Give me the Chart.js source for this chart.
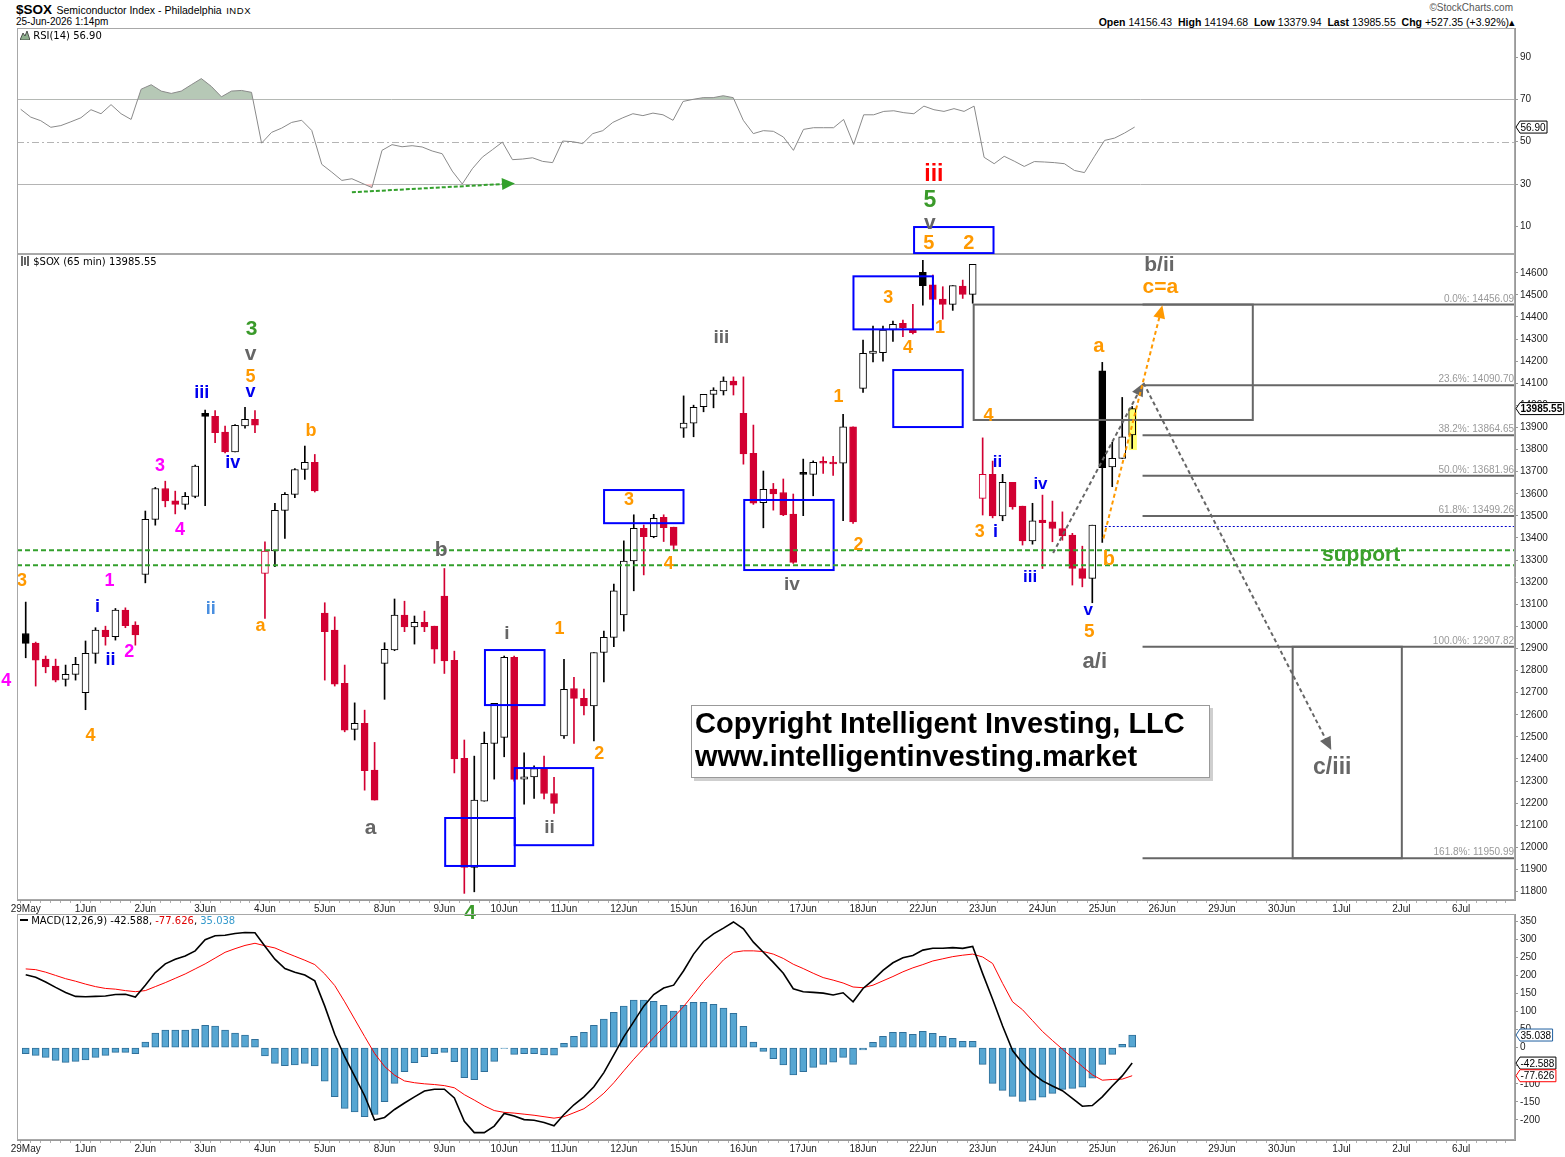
<!DOCTYPE html>
<html>
<head>
<meta charset="utf-8">
<title>$SOX Semiconductor Index</title>
<script src="https://cdn.jsdelivr.net/npm/chart.js@4.4.1/dist/chart.umd.min.js"></script>
<style>
  html,body{margin:0;padding:0;background:#fff;}
  body{width:1565px;height:1157px;position:relative;overflow:hidden;font-family:"Liberation Sans",Arial,sans-serif;}
  canvas{position:absolute;left:0;}
  .txt{position:absolute;white-space:nowrap;line-height:1;color:#000;}
  .leg{font-family:"DejaVu Sans",sans-serif;font-size:10px;}
  #copy{position:absolute;left:691px;top:705px;width:517px;height:71px;border:1px solid #999;background:#fff;box-shadow:3px 3px 0 #cfcfcf;}
  #copy div{position:absolute;left:3px;font-weight:bold;font-size:29px;color:#000;white-space:nowrap;line-height:1;}
</style>
</head>
<body>
<canvas id="rsiC" width="1565" height="226" style="top:28px"></canvas>
<canvas id="priceC" width="1565" height="775" style="top:150px"></canvas>
<canvas id="macdC" width="1565" height="243" style="top:914px"></canvas>

<div class="txt" style="left:16px;top:1px;"><b style="font-size:13.5px">$SOX</b> <span style="font-size:10.5px">Semiconductor Index - Philadelphia</span> <span style="font-size:9.5px;letter-spacing:0.6px">INDX</span></div>
<div class="txt" style="left:16px;top:17px;font-size:10px;">25-Jun-2026 1:14pm</div>
<div class="txt" style="right:52px;top:3px;font-size:10px;color:#555;">&#169;StockCharts.com</div>
<div class="txt" style="right:50px;top:17px;font-size:10.5px;"><b>Open</b> 14156.43 &nbsp;<b>High</b> 14194.68 &nbsp;<b>Low</b> 13379.94 &nbsp;<b>Last</b> 13985.55 &nbsp;<b>Chg</b> +527.35 (+3.92%)&#9652;</div>

<div class="txt leg" style="left:20px;top:30px;"><svg width="10" height="10" style="vertical-align:-1px"><path d="M0 10 L3 3 L5 6 L7 1 L10 10 Z" fill="#8fb08f" stroke="#333" stroke-width="0.8"/></svg> RSI(14) 56.90</div>
<div class="txt leg" style="left:20px;top:256px;"><svg width="10" height="10" style="vertical-align:-1px"><path d="M2 0 V10 M5 1 V9 M8 0 V10" stroke="#000" stroke-width="1.2"/></svg> $SOX (65 min) 13985.55</div>
<div class="txt leg" style="left:20px;top:916px;"><span style="display:inline-block;width:8px;height:2px;background:#000;vertical-align:3px"></span> MACD(12,26,9) -42.588, <span style="color:#e00000">-77.626</span>, <span style="color:#3399cc">35.038</span></div>

<div id="copy"><div style="top:3px;">Copyright Intelligent Investing, LLC</div><div style="top:36px;">www.intelligentinvesting.market</div></div>

<script>
// ---------------- DATA ----------------
const dayLabels = ['29May','1Jun','2Jun','3Jun','4Jun','5Jun','8Jun','9Jun','10Jun','11Jun','12Jun','15Jun','16Jun','17Jun','18Jun','22Jun','23Jun','24Jun','25Jun','26Jun','29Jun','30Jun','1Jul','2Jul','6Jul'];

const openP = [12968,12924,12852,12820,12760,12783, 12700,12878,12983,12953,13074,13006, 13235,13484,13624,13568,13552,13588,
 13964,13950,13879,13790,13907,13937, 13240,13341,13525,13597,13710,13742, 13060,12983,12742,12534,12561,12350,
 12833,12893,13051,12998,13018,13001, 13137,12847,12403,11909,12209,12471, 12498,12860,12309,12319,12354,12244,
 12504,12719,12674,12640,12882,12950, 13052,13296,13444,13406,13494,13449, 13897,13920,13994,14050,14066,14110,
 13964,13783,13560,13621,13606,13508, 13692,13688,13742,13742,13738,13903, 14077,14235,14238,14341,14371,14341,
 14602,14545,14481,14457,14540,14502, 13579,13688,13500,13652,13544,13387, 13481,13473,13443,13413,13262,13217,
 14156.43,13722,13760,13866];
const highP = [13110,12929,12866,12852,12825,12860, 12934,12994,13001,13081,13084,13021, 13522,13629,13657,13612,13606,13730,
 13979,13976,13906,13913,13991,13976, 13383,13557,13606,13714,13816,13778, 13107,13043,12825,12654,12621,12475,
 12926,13124,13114,13047,13069,13001, 13262,12888,12486,12413,12522,12652, 12866,12866,12428,12369,12413,12317,
 12851,12769,12716,12882,12979,13191, 13387,13505,13459,13507,13505,13449, 14043,14001,14050,14080,14129,14129,
 14129,13911,13703,13647,13667,13599, 13757,13749,13767,13770,13959,13903, 14296,14359,14359,14381,14386,14457,
 14656,14590,14537,14542,14567,14638, 13853,13748,13688,13652,13544,13557, 13594,13567,13518,13421,13363,13458,
 14194.68,13833,14036,13995];
const lowP = [12858,12730,12790,12749,12730,12757, 12623,12833,12915,12938,12994,12915, 13197,13458,13541,13509,13530,13582,
 13546,13831,13785,13790,13897,13876, 13036,13270,13398,13583,13665,13608, 12757,12730,12523,12486,12259,12214,
 12670,12890,12976,12920,12976,12833, 12787,12337,11792,11799,12209,12309, 12410,12300,12196,12222,12219,12154,
 12493,12471,12599,12482,12749,12908, 12979,13161,13233,13401,13384,13347, 13855,13858,13971,13989,14047,14047,
 13734,13552,13446,13526,13501,13285, 13501,13591,13692,13683,13478,13466, 14059,14197,14200,14290,14311,14323,
 14454,14455,14390,14430,14484,14462, 13504,13491,13478,13530,13368,13372, 13262,13383,13390,13187,13179,13107,
 13379.94,13632,13760,13805];
const closeP = [12923,12847,12817,12757,12783,12828, 12878,12983,12953,13074,13003,12961, 13484,13624,13568,13552,13588,13725,
 13950,13876,13790,13910,13937,13910, 13341,13525,13597,13710,13742,13613, 12976,12739,12531,12561,12347,12214,
 12896,13051,12998,13018,12998,12897, 12844,12400,11909,12214,12471,12652, 12860,12308,12319,12357,12244,12199,
 12715,12674,12640,12882,12950,13161, 13296,13444,13406,13489,13447,13366, 13920,13991,14050,14069,14110,14092,
 13780,13557,13620,13599,13504,13290, 13688,13742,13738,13735,13903,13473, 14235,14246,14341,14367,14352,14329,
 14542,14480,14457,14542,14502,14638, 13688,13500,13652,13541,13387,13478, 13469,13443,13409,13262,13217,13458,
 13718,13760,13858,13985.55];

const rsiValues = [65.3,61.6,59.9,56.8,57.6,59.4, 61.3,65.1,63.2,67.5,63.2,60.5, 74.8,76.9,73.9,72.8,73.9,76.9,
 79.8,76.1,71.2,73.9,74.2,73.3, 49.3,54.4,56.4,59.1,60.1,55.3, 39.3,35.6,31.7,32.5,30.4,28.3,
 45.9,48.6,47.6,48.1,47.5,45.6, 44.3,36.1,30.0,37.2,42.7,46.2, 49.8,41.5,41.8,42.4,40.7,40.1,
 50.3,50.0,49.1,53.8,55.2,59.1, 61.3,63.2,62.3,63.5,62.7,60.1, 69.0,70.0,70.8,70.8,71.7,70.8,
 60.1,53.8,55.2,54.9,52.2,45.9, 55.8,56.6,56.6,56.6,60.5,48.7, 62.7,62.7,64.3,64.6,63.7,63.2,
 66.8,65.1,64.3,65.6,64.3,66.8, 42.6,39.6,43.1,40.8,38.3,40.6, 40.4,40.1,39.6,36.4,35.4,43.1,
 50.6,51.7,54.1,56.90];

const macdValues = [202,195,182,167,153,142,141,142,143,147,148,140,173,208,232,245,254,268,
 299,310,311,316,319,318,281,245,219,209,201,185,115,37,-25,-79,-133,-200,
 -193,-171,-153,-136,-120,-115,-115,-139,-204,-235,-235,-217,-182,-189,-199,-201,-207,-216,
 -185,-158,-136,-108,-69,-20,30,72,115,147,165,173,213,259,294,315,331,348,
 329,292,264,236,206,163,155,153,151,146,152,127,164,187,214,235,249,255,
 270,275,275,277,275,280,205,134,60,-8,-43,-71,-92,-106,-119,-140,-162,-160,
 -136,-106,-78,-42.588];
const signalValues = [218,216,209,200,191,184,176,169,164,162,158,155,158,169,180,192,204,218,
 232,248,264,274,283,289,282,276,264,253,242,230,204,172,127,79,31,-16,
 -52,-76,-92,-97,-100,-102,-105,-111,-130,-145,-161,-174,-179,-181,-184,-187,-191,-195,
 -191,-180,-169,-149,-126,-97,-64,-32,-2,28,57,84,114,148,183,213,243,264,
 268,268,266,259,247,231,219,206,194,187,179,168,166,173,185,197,210,221,
 230,240,246,252,256,259,251,233,178,127,105,75,45,20,-4,-28,-52,-75,
 -90,-88,-87,-77.626];
const histValues = [-16.6,-21.2,-26.7,-35,-40.5,-37.7,-34,-26.7,-21.2,-12.9,-12.9,-16.6,15.8,40.7,49,49,49,51.8,
 62,60,49,40.7,35.1,23.2,-23,-43.3,-49.8,-47.9,-43.3,-50.7,-93,-135.6,-167.8,-178,-191,-185,
 -149.5,-98.6,-66.4,-41.5,-24.9,-16.6,-12.9,-38.7,-83,-88.6,-66.4,-37.7,-1.8,-18.4,-16.6,-16.6,-20,-21,
 12,31.5,42.6,62,79.4,98,115.4,132,132,128.4,117.3,101.6,117.3,125.6,125.6,120,109.9,95.2,
 59.2,15.8,-10,-30.4,-47.9,-75.6,-66.4,-54.4,-46,-40.4,-26.6,-46,-6.4,14.9,31.5,42.6,42.6,37,
 45.4,39.8,31.5,26,17.7,17.7,-46,-98.6,-118,-134.6,-148.4,-145.6,-137.3,-126.3,-115.2,-112.4,-109.6,-84.7,
 -46,-18.4,9.3,35.038];

const priceTickValues = [11800,11900,12000,12100,12200,12300,12400,12500,12600,12700,12800,12900,13000,13100,13200,13300,13400,13500,13600,13700,13800,13900,14000,14100,14200,14300,14400,14500,14600];
const rsiTickValues = [10,30,50,70,90];
const macdTickValues = [-200,-150,-100,-50,0,50,100,150,200,250,300,350];
const rsiLevels = {upper:70, mid:50, lower:30};
const lastValues = {price:13985.55, rsi:56.90, macd:-42.588, signal:-77.626, hist:35.038};

const fibLevels = [['0.0%',14456.09],['23.6%',14090.70],['38.2%',13864.65],['50.0%',13681.96],['61.8%',13499.26],['100.0%',12907.82],['161.8%',11950.99]];
const supportLevels = [13345,13277];
const pivotLevel = 13454;

// ---------------- ANNOTATIONS (data coordinates: bar index, price) ----------------
const waveLabels = [
  [-0.37,13205,'3','O',18],[-1.96,12752,'4','M',18],[6.51,12504,'4','O',18],[8.4,13205,'1','M',18],
  [7.2,13087,'i','B',18],[8.5,12848,'ii','B',18],[10.39,12884,'2','M',18],[18.56,13078,'ii','LB',18],
  [13.48,13725,'3','M',18],[15.47,13436,'4','M',18],[17.67,14056,'iii','B',18],[20.76,13739,'iv','B',18],
  [22.65,14346,'3','GR',21],[22.55,14233,'v','G',21],[22.55,14129,'5','O',18],[22.55,14061,'v','B',18],
  [28.63,13884,'b','O',18],[23.55,13001,'a','O',18],[41.68,13345,'b','G',21],[34.61,12088,'a','G',21],
  [44.57,11703,'4','GR',21],[48.26,12965,'i','G',19],[52.55,12088,'ii','G',19],[53.54,12988,'1','O',18],
  [57.53,12422,'2','O',18],[60.52,13571,'3','O',18],[64.51,13282,'4','O',18],[69.79,14305,'iii','G',19],
  [76.86,13187,'iv','G',19],[81.54,14038,'1','O',18],[83.54,13368,'2','O',18],[86.53,14486,'3','O',18],
  [88.52,14259,'4','O',18],[91.71,14350,'1','O',18],[91.11,15042,'iii','R',23],[90.71,14925,'5','GR',23],
  [90.71,14825,'v','G',21],[90.61,14731,'5','O',20],[94.6,14731,'2','O',20],[96.59,13952,'4','O',18],
  [95.7,13427,'3','O',18],[97.3,13427,'i','B',18],[97.49,13744,'ii','B',17],[101.8,13644,'iv','B',17],
  [100.77,13223,'iii','B',17],[106.6,13074,'v','B',17],[106.7,12974,'5','O',19],[107.25,12838,'a/i','G',22],
  [107.65,14268,'a','O',20],[108.65,13305,'b','O',20],[113.73,14636,'b/ii','G',21],[113.83,14536,'c=a','O',21],
  [133.96,13323,'support','SG',21],[131.07,12359,'c/iii','G',23]
];
const blueBoxes = [[42.08,49.06,12133,11916],[46.07,52.05,12893,12644],[49.06,56.93,12359,12010],[58.02,65.99,13617,13467],
  [72.08,81.05,13572,13255],[83.04,91.01,14584,14344],[87.03,94.0,14160,13902],[89.12,97.09,14807,14689]];
const grayBoxes = [[95.1,123.1,14456.09,13934],[127.1,138.05,12907.82,11950.99]];
const fibStart = 112.04;
const pivotStart = 108.25;
const grayPath = [[103.07,13332],[112.14,14101],[130.97,12441]];
const orangePath = [[108.12,13398],[114.03,14453]];
const highlight = [110.64,111.47,13988,13798];
const rsiArrow = [[33.0,26.1],[49.25,30.3]];

// ---------------- STYLE ----------------
Chart.defaults.font.family = '"Liberation Sans", Arial, sans-serif';
const COL = {O:'#ff9900',M:'#ff00ff',B:'#0000ee',LB:'#4a8fe0',G:'#666666',GR:'#3a9a2a',SG:'#3aa02a',R:'#ff0000'};
const RED = '#d20032', BLACK = '#000000';
const XMIN = -0.37, XMAX = 148.9;
const N = openP.length;
const idx = Array.from({length:N}, (_, i) => i);
const barTicks = Array.from({length:149}, (_, i) => ({value:i}));

const candleColors = idx.map(i => (i === 0 || closeP[i] >= closeP[i-1]) ? BLACK : RED);
const candleFills = idx.map(i => closeP[i] < openP[i] ? candleColors[i] : '#ffffff');

function xAxis(show, h) {
  return {
    type:'linear', min:XMIN, max:XMAX, display:show, position:'bottom',
    afterBuildTicks: s => { s.ticks = barTicks.slice(); },
    afterFit: s => { s.height = h; s.paddingLeft = 0; s.paddingRight = 0; },
    ticks:{autoSkip:false, maxRotation:0, minRotation:0, padding:0, color:'#222', font:{size:10},
      callback: v => (v % 6 === 0 && dayLabels[v/6]) ? dayLabels[v/6] : ''},
    grid:{drawOnChartArea:false, tickLength:3, color:'#b0b0b0'},
    border:{color:'#999'}
  };
}
function yAxis(min, max, ticks) {
  return {
    position:'right', min, max,
    afterBuildTicks: s => { s.ticks = ticks.map(v => ({value:v})); },
    afterFit: s => { s.width = 50; s.paddingTop = 0; s.paddingBottom = 0; },
    ticks:{color:'#222', font:{size:10}, padding:2, callback: v => String(v)},
    grid:{drawOnChartArea:false, tickLength:3, color:'#999'},
    border:{color:'#999'}
  };
}
const baseOpts = {responsive:false, animation:false, events:[], devicePixelRatio:1,
  plugins:{legend:{display:false}, tooltip:{enabled:false}}};

function frame(chart) {
  const a = chart.chartArea, ctx = chart.ctx;
  ctx.save(); ctx.strokeStyle = '#a8a8a8'; ctx.lineWidth = 1;
  ctx.strokeRect(Math.round(a.left)+0.5, Math.round(a.top)+0.5, Math.round(a.right-a.left)-1, Math.round(a.bottom-a.top)-1);
  ctx.restore();
}
function tag(ctx, x, y, text, border, bold) {
  ctx.save();
  ctx.font = (bold ? 'bold ' : '') + '10px "Liberation Sans", Arial';
  const tw = ctx.measureText(text).width, h = 12;
  ctx.beginPath();
  ctx.moveTo(x+1, y); ctx.lineTo(x+5, y-h/2); ctx.lineTo(x+7+tw, y-h/2); ctx.lineTo(x+7+tw, y+h/2); ctx.lineTo(x+5, y+h/2); ctx.closePath();
  ctx.fillStyle = '#fff'; ctx.fill(); ctx.strokeStyle = border; ctx.lineWidth = 1; ctx.stroke();
  ctx.fillStyle = '#000'; ctx.textBaseline = 'middle'; ctx.textAlign = 'left';
  ctx.fillText(text, x+5.5, y+1);
  ctx.restore();
}
function arrow(ctx, x1, y1, x2, y2, color, dash, w, L, W) {
  const ang = Math.atan2(y2-y1, x2-x1), c = Math.cos(ang), s = Math.sin(ang);
  ctx.save(); ctx.strokeStyle = color; ctx.lineWidth = w; ctx.setLineDash(dash);
  ctx.beginPath(); ctx.moveTo(x1, y1); ctx.lineTo(x2 - c*L*0.7, y2 - s*L*0.7); ctx.stroke();
  ctx.setLineDash([]); ctx.fillStyle = color; ctx.beginPath();
  ctx.moveTo(x2, y2);
  ctx.lineTo(x2 - L*c + W*s, y2 - L*s - W*c);
  ctx.lineTo(x2 - L*c - W*s, y2 - L*s + W*c);
  ctx.closePath(); ctx.fill(); ctx.restore();
}

// ---------------- RSI ----------------
const rsiPts = idx.map(i => ({x:i, y:rsiValues[i]}));
new Chart(document.getElementById('rsiC'), {
  type:'line',
  data:{datasets:[
    {data:rsiPts, borderColor:'#8a8a8a', borderWidth:1, pointRadius:0, tension:0,
     fill:{target:{value:rsiLevels.upper}, above:'#b6c8b6', below:'rgba(0,0,0,0)'}},
    {data:rsiPts, borderWidth:0, pointRadius:0, tension:0,
     fill:{target:{value:rsiLevels.lower}, above:'rgba(0,0,0,0)', below:'#f3c2c2'}}
  ]},
  options:Object.assign({}, baseOpts, {
    layout:{padding:{left:17, right:0, top:0, bottom:0}},
    scales:{x:xAxis(false, 0), y:yAxis(-3.06, 103.7, rsiTickValues)}
  }),
  plugins:[{
    id:'rsiDeco',
    beforeDatasetsDraw(chart) {
      const {ctx, chartArea:a, scales:{y}} = chart;
      ctx.save(); ctx.strokeStyle = '#b4b4b4'; ctx.lineWidth = 1;
      [rsiLevels.upper, rsiLevels.lower].forEach(v => {
        const py = Math.round(y.getPixelForValue(v)) + 0.5;
        ctx.beginPath(); ctx.moveTo(a.left, py); ctx.lineTo(a.right, py); ctx.stroke();
      });
      ctx.setLineDash([7,3,2,3]);
      const pm = Math.round(y.getPixelForValue(rsiLevels.mid)) + 0.5;
      ctx.beginPath(); ctx.moveTo(a.left, pm); ctx.lineTo(a.right, pm); ctx.stroke();
      ctx.restore();
    },
    afterDraw(chart) {
      const {ctx, chartArea:a, scales:{x, y}} = chart;
      frame(chart);
      arrow(ctx, x.getPixelForValue(rsiArrow[0][0]), y.getPixelForValue(rsiArrow[0][1]),
            x.getPixelForValue(rsiArrow[1][0]), y.getPixelForValue(rsiArrow[1][1]), '#33a02c', [4,2], 2, 13, 6);
      tag(ctx, a.right, y.getPixelForValue(lastValues.rsi), lastValues.rsi.toFixed(2), '#000', false);
    }
  }]
});

// ---------------- PRICE ----------------
new Chart(document.getElementById('priceC'), {
  type:'bar',
  data:{datasets:[
    {data:idx.map(i => ({x:i, y:[lowP[i], highP[i]]})), backgroundColor:candleColors, borderWidth:0,
     barThickness:1, grouped:false, order:2},
    {data:idx.map(i => ({x:i, y:[Math.min(openP[i], closeP[i]), Math.max(openP[i], closeP[i])]})),
     backgroundColor:candleFills, borderColor:candleColors, borderWidth:1, borderSkipped:false,
     barThickness:7, minBarLength:2, grouped:false, order:1}
  ]},
  options:Object.assign({}, baseOpts, {
    layout:{padding:{left:17, right:0, top:104, bottom:10}},
    scales:{x:xAxis(true, 15), y:yAxis(11762, 14685, priceTickValues)}
  }),
  plugins:[{
    id:'priceDeco',
    afterDatasetsDraw(chart) {
      const {ctx, chartArea:a, scales:{x, y}} = chart;
      const X = v => x.getPixelForValue(v), Y = v => y.getPixelForValue(v);
      ctx.save();
      ctx.globalCompositeOperation = 'multiply';
      ctx.fillStyle = '#ffff70';
      ctx.fillRect(X(highlight[0]), Y(highlight[2]), X(highlight[1]) - X(highlight[0]), Y(highlight[3]) - Y(highlight[2]));
      ctx.globalCompositeOperation = 'source-over';
      ctx.strokeStyle = '#666'; ctx.lineWidth = 2;
      fibLevels.forEach(([lab, v]) => {
        const py = Y(v);
        ctx.beginPath(); ctx.moveTo(X(fibStart), py); ctx.lineTo(a.right, py); ctx.stroke();
        ctx.font = '10px "Liberation Sans", Arial'; ctx.fillStyle = '#999'; ctx.textAlign = 'right'; ctx.textBaseline = 'alphabetic';
        ctx.fillText(lab + ': ' + v.toFixed(2), a.right - 1, py - 3);
      });
      grayBoxes.forEach(b => { ctx.strokeRect(X(b[0]), Y(b[2]), X(b[1]) - X(b[0]), Y(b[3]) - Y(b[2])); });
      ctx.strokeStyle = '#0000ff'; ctx.lineWidth = 2;
      blueBoxes.forEach(b => { ctx.strokeRect(X(b[0]), Y(b[2]), X(b[1]) - X(b[0]), Y(b[3]) - Y(b[2])); });
      ctx.strokeStyle = '#0000cc'; ctx.lineWidth = 1; ctx.setLineDash([2,2]);
      const pp = Math.round(Y(pivotLevel)) + 0.5;
      ctx.beginPath(); ctx.moveTo(X(pivotStart), pp); ctx.lineTo(a.right, pp); ctx.stroke();
      ctx.strokeStyle = '#33a02c'; ctx.lineWidth = 2; ctx.setLineDash([5,3]);
      supportLevels.forEach(v => { const py = Y(v); ctx.beginPath(); ctx.moveTo(a.left, py); ctx.lineTo(a.right, py); ctx.stroke(); });
      ctx.setLineDash([]);
      ctx.restore();
      arrow(ctx, X(grayPath[0][0]), Y(grayPath[0][1]), X(grayPath[1][0]), Y(grayPath[1][1]), '#666', [4,3], 2, 13, 6);
      arrow(ctx, X(grayPath[1][0]), Y(grayPath[1][1]), X(grayPath[2][0]), Y(grayPath[2][1]), '#666', [4,3], 2, 13, 6);
      arrow(ctx, X(orangePath[0][0]), Y(orangePath[0][1]), X(orangePath[1][0]), Y(orangePath[1][1]), '#ff9900', [4,3], 2, 13, 6);
      ctx.save(); ctx.textAlign = 'center'; ctx.textBaseline = 'middle';
      waveLabels.forEach(([i, p, t, c, s]) => {
        ctx.font = 'bold ' + s + 'px "Liberation Sans", Arial';
        ctx.fillStyle = COL[c];
        ctx.fillText(t, X(i), Y(p));
      });
      ctx.restore();
    },
    afterDraw(chart) {
      const {ctx, chartArea:a, scales:{y}} = chart;
      frame(chart);
      tag(ctx, a.right, y.getPixelForValue(lastValues.price), lastValues.price.toFixed(2), '#000', true);
    }
  }]
});

// ---------------- MACD ----------------
new Chart(document.getElementById('macdC'), {
  type:'bar',
  data:{datasets:[
    {type:'line', data:idx.map(i => ({x:i, y:macdValues[i]})), borderColor:'#000', borderWidth:1.6, pointRadius:0, tension:0, order:1},
    {type:'line', data:idx.map(i => ({x:i, y:signalValues[i]})), borderColor:'#ff0000', borderWidth:1, pointRadius:0, tension:0, order:2},
    {type:'bar', data:idx.map(i => ({x:i, y:histValues[i]})), backgroundColor:'#56a6d2', borderColor:'#2f6f99',
     borderWidth:1, borderSkipped:false, barThickness:7, grouped:false, order:3}
  ]},
  options:Object.assign({}, baseOpts, {
    layout:{padding:{left:17, right:0, top:0, bottom:0}},
    scales:{x:xAxis(true, 17), y:yAxis(-255.5, 370, macdTickValues)}
  }),
  plugins:[{
    id:'macdDeco',
    afterDraw(chart) {
      const {ctx, chartArea:a, scales:{y}} = chart;
      frame(chart);
      tag(ctx, a.right, y.getPixelForValue(lastValues.hist), lastValues.hist.toFixed(3), '#2060a0', false);
      tag(ctx, a.right, y.getPixelForValue(lastValues.macd), lastValues.macd.toFixed(3), '#000', false);
      tag(ctx, a.right, y.getPixelForValue(lastValues.signal), lastValues.signal.toFixed(3), '#ff0000', false);
    }
  }]
});
</script>
</body>
</html>
